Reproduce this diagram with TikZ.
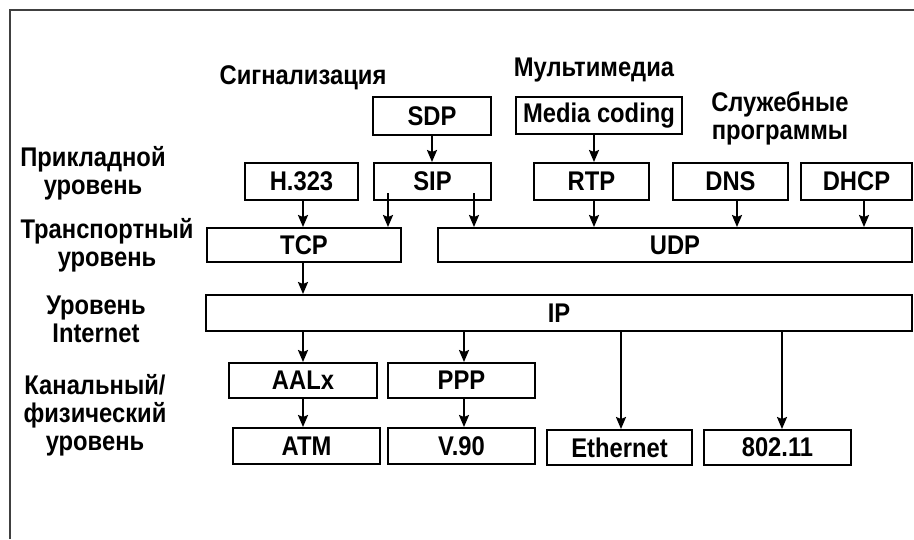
\documentclass[tikz,border=0pt]{standalone}
\usepackage{fontspec}
\setmainfont{Liberation Sans}[FakeStretch=0.88]
\usetikzlibrary{arrows.meta}
\begin{document}
\begin{tikzpicture}[x=1pt, y=-1pt,
  box/.style={draw, line width=2pt, inner sep=0pt, font=\bfseries\fontsize{27}{27}\selectfont},
  lbl/.style={align=center, font=\bfseries\fontsize{27}{28}\selectfont},
  arr/.style={-{Stealth[length=12pt, width=10pt, inset=2pt]}, line width=2pt}]
  \useasboundingbox (0,0) rectangle (914,539);
  % Frame
  \draw[line width=2.5pt, black!75] (10,539) -- (10,10) -- (914,10);

  % Layer labels
  \node[lbl] (app) at (93,173) {Прикладной\\уровень};
  \node[lbl] (trans) at (107,245) {Транспортный\\уровень};
  \node[lbl] (inet) at (96,319) {Уровень\\Internet};
  \node[lbl, text depth=0pt] (link) at (95,412) {Канальный/\\физический\\уровень};

  % Group titles
  \node[lbl] (sig) at (303,78) {Сигнализация};
  \node[lbl] (mm) at (594,70) {Мультимедиа};
  \node[lbl] (svc) at (780,118) {Служебные\\программы};

  % Application layer
  \node[box, minimum width=118pt, minimum height=38pt] (sdp) at (432,116) {SDP};
  \node[box, minimum width=166pt, minimum height=37pt] (media) at (599,115.5) {Media coding};
  \node[box, minimum width=113pt, minimum height=37pt] (h323) at (301.5,181.5) {H.323};
  \node[box, minimum width=117pt, minimum height=37pt] (sip) at (432.5,181.5) {SIP};
  \node[box, minimum width=115pt, minimum height=37pt] (rtp) at (591.5,181.5) {RTP};
  \node[box, minimum width=115pt, minimum height=37pt] (dns) at (730.5,181.5) {DNS};
  \node[box, minimum width=111pt, minimum height=37pt] (dhcp) at (856.5,181.5) {DHCP};

  % Transport layer
  \node[box, minimum width=194pt, minimum height=34pt] (tcp) at (304,245) {TCP};
  \node[box, minimum width=474pt, minimum height=34pt] (udp) at (675,245) {UDP};

  % Internet layer
  \node[box, minimum width=706pt, minimum height=36pt] (ip) at (559,313) {IP};

  % Link / physical layer
  \node[box, minimum width=148pt, minimum height=35pt] (aalx) at (303,380.5) {AALx};
  \node[box, minimum width=147pt, minimum height=35pt] (ppp) at (461.5,380.5) {PPP};
  \node[box, minimum width=147pt, minimum height=36pt] (atm) at (306.5,446) {ATM};
  \node[box, minimum width=147pt, minimum height=36pt] (v90) at (461.5,446) {V.90};
  \node[box, minimum width=145pt, minimum height=35pt] (eth) at (619.5,447.5) {Ethernet};
  \node[box, minimum width=147pt, minimum height=35pt] (wifi) at (777.5,447.5) {802.11};

  % Edges
  \draw[arr] (sdp.south -| 432,0) -- (sip.north -| 432,0);
  \draw[arr] (media.south -| 594,0) -- (rtp.north -| 594,0);
  \draw[arr] (h323.south -| 303,0) -- (tcp.north -| 303,0);
  \draw[arr] ([yshift=8pt]sip.south -| 388,0) -- (tcp.north -| 388,0);
  \draw[arr] ([yshift=8pt]sip.south -| 474,0) -- (udp.north -| 474,0);
  \draw[arr] (rtp.south -| 594,0) -- (udp.north -| 594,0);
  \draw[arr] (dns.south -| 737,0) -- (udp.north -| 737,0);
  \draw[arr] (dhcp.south -| 864,0) -- (udp.north -| 864,0);
  \draw[arr] (tcp.south -| 303,0) -- (ip.north -| 303,0);
  \draw[arr] (ip.south -| 303,0) -- (aalx.north -| 303,0);
  \draw[arr] (aalx.south -| 303,0) -- (atm.north -| 303,0);
  \draw[arr] (ip.south -| 464,0) -- (ppp.north -| 464,0);
  \draw[arr] (ppp.south -| 464,0) -- (v90.north -| 464,0);
  \draw[arr] (ip.south -| 621,0) -- (eth.north -| 621,0);
  \draw[arr] (ip.south -| 782,0) -- (wifi.north -| 782,0);
\end{tikzpicture}
\end{document}
